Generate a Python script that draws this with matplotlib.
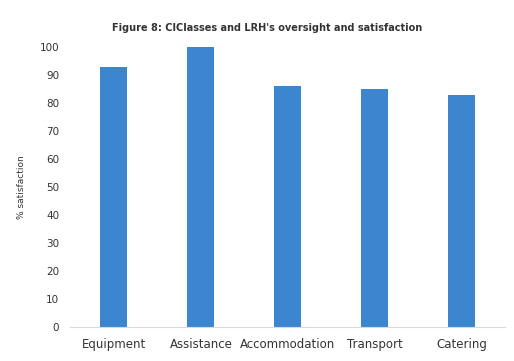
import matplotlib.pyplot as plt

# Satisfaction scores per service area
categories = ['Equipment', 'Assistance', 'Accommodation', 'Transport', 'Catering']
satisfaction = [93, 100, 86, 85, 83]
yticks = list(range(0, 101, 10))

fig, ax = plt.subplots(figsize=(5.14, 3.61), dpi=100)
fig.subplots_adjust(left=0.137, right=0.983, bottom=0.094, top=0.870)

ax.bar(range(len(categories)), satisfaction, width=0.31, color='#3b86cf')

ax.set_xlim(-0.5, len(categories) - 0.5)
ax.set_ylim(0, 100)
ax.set_yticks(yticks)
ax.set_yticklabels([str(t) for t in yticks], fontsize=7.5, color='#333333')
ax.set_xticks(range(len(categories)))
ax.set_xticklabels(categories, fontsize=8.5, color='#333333')
ax.tick_params(axis='y', length=0, pad=8)
ax.tick_params(axis='x', length=0, pad=8)

for side in ['top', 'right', 'left']:
    ax.spines[side].set_visible(False)
ax.spines['bottom'].set_color('#d9d9d9')

ax.set_ylabel('% satisfaction', fontsize=6.5, color='#333333', labelpad=10)
fig.suptitle("Figure 8: CIClasses and LRH's oversight and satisfaction",
             fontsize=7, fontweight='bold', color='#333333', x=0.52, y=0.935)

plt.savefig('out.png', dpi=100)
